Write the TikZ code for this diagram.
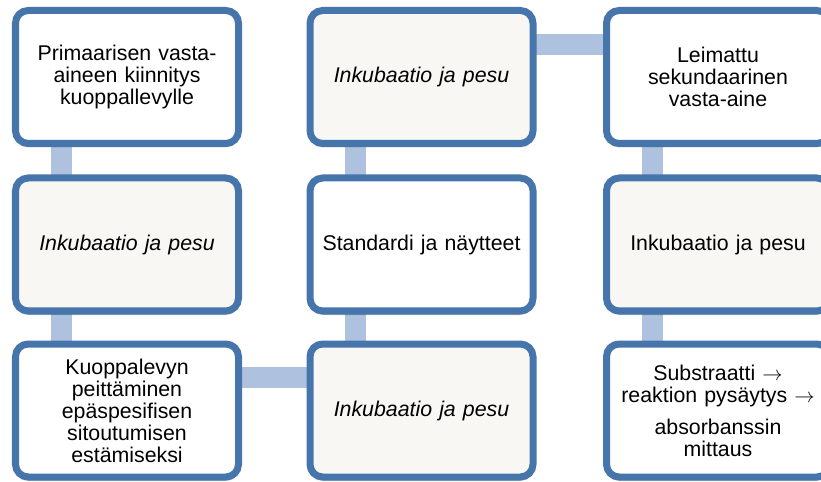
\documentclass[tikz,border=0pt]{standalone}
\usepackage{fontspec}
\setmainfont{Liberation Sans}
\usetikzlibrary{backgrounds, shadows}
\definecolor{frameblue}{HTML}{4675AC}
\definecolor{linkblue}{HTML}{AEC1DE}
\definecolor{washfill}{HTML}{F8F7F4}
\tikzset{
  stepbox/.style={
    rectangle, rounded corners=0.38cm, draw=frameblue, line width=0.21cm,
    fill=white, text=black, font=\fontsize{18.2}{18.8}\selectfont,
    minimum width=6.69cm, minimum height=3.99cm, text width=6.2cm, align=center,
    drop shadow={shadow xshift=0pt, shadow yshift=-0.12cm, opacity=0.2, fill=black}
  },
  washbox/.style={
    stepbox, fill=washfill
  },
  washit/.style={
    washbox, font=\fontsize{18.2}{18.8}\selectfont\itshape
  },
  link/.style={linkblue, line width=0.63cm},
}

\begin{document}
\begin{tikzpicture}
\useasboundingbox (0,0) rectangle (24.63,14.43);
\clip (0,0) rectangle (24.63,14.43);

% --- Column 1 ---
\node[stepbox] (primary) at (3.81,12.12) {Primaarisen vasta-\\aineen kiinnitys\\kuoppallevylle};
\node[washit] (wash1) at (3.81,7.095) {Inkubaatio ja pesu};
\node[stepbox] (coating) at (3.81,2.115) {Kuoppalevyn\\peittäminen\\epäspesifisen\\sitoutumisen\\estämiseksi};

% --- Column 2 ---
\node[washit] (wash2) at (12.645,2.115) {Inkubaatio ja pesu};
\node[stepbox] (samples) at (12.645,7.095) {Standardi ja näytteet};
\node[washit] (wash3) at (12.645,12.12) {Inkubaatio ja pesu};

% --- Column 3 ---
\node[stepbox] (secondary) at (21.54,12.12) {Leimattu\\sekundaarinen\\vasta-aine};
\node[washbox] (wash4) at (21.54,7.095) {Inkubaatio ja pesu};
\node[stepbox] (readout) at (21.54,2.115) {Substraatti $\rightarrow$\\reaktion pysäytys $\rightarrow$\\[0.3cm]absorbanssin\\mittaus};

% --- Links ---
\begin{scope}[on background layer]
\draw[link] ([xshift=-1.98cm]primary.center) -- ([xshift=-1.98cm]wash1.center);
\draw[link] ([xshift=-1.98cm]wash1.center) -- ([xshift=-1.98cm]coating.center);
\draw[link] ([yshift=1cm]coating.center) -- ([yshift=1cm]wash2.center);
\draw[link] ([xshift=-1.98cm]wash2.center) -- ([xshift=-1.98cm]samples.center);
\draw[link] ([xshift=-1.98cm]samples.center) -- ([xshift=-1.98cm]wash3.center);
\draw[link] ([yshift=0.96cm]wash3.center) -- ([yshift=0.96cm]secondary.center);
\draw[link] ([xshift=-1.98cm]secondary.center) -- ([xshift=-1.98cm]wash4.center);
\draw[link] ([xshift=-1.98cm]wash4.center) -- ([xshift=-1.98cm]readout.center);
\end{scope}

\end{tikzpicture}
\end{document}
